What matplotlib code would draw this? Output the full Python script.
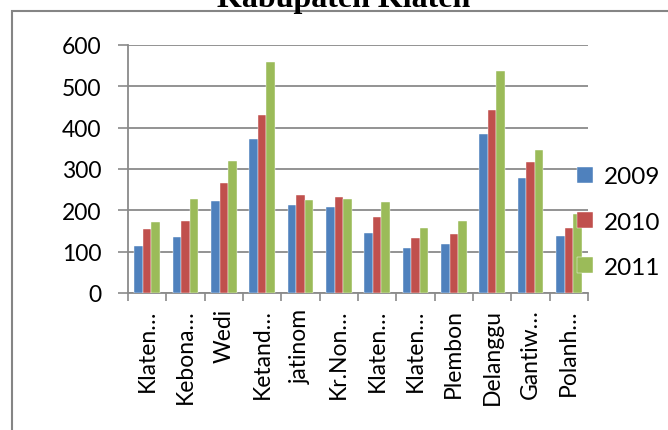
import matplotlib
matplotlib.use("Agg")
import matplotlib.pyplot as plt
import numpy as np
from matplotlib.patches import Rectangle

# data
kecamatan = ["Klaten…", "Kebona…", "Wedi", "Ketand…", "jatinom", "Kr.Non…",
             "Klaten…", "Klaten…", "Plembon", "Delanggu", "Gantiw…", "Polanh…"]
years = ["2009", "2010", "2011"]
v2009 = [113, 135, 222, 373, 213, 209, 144, 109, 118, 384, 279, 138]
v2010 = [155, 173, 265, 431, 237, 233, 185, 132, 143, 442, 316, 157]
v2011 = [172, 227, 320, 559, 225, 227, 219, 157, 173, 536, 346, 191]
colors = ["#4F81BD", "#C0504D", "#9BBB59"]

plt.rcParams['font.family'] = ['Lato', 'DejaVu Sans']

W, H = 668, 431
fig = plt.figure(figsize=(W / 100, H / 100), dpi=100)

# outer chart frame (runs off the right and bottom edges)
fig.patches.append(Rectangle((12 / W, -0.1), 1.2, 1 - 12 / H + 0.1,
                             transform=fig.transFigure, fill=False,
                             edgecolor="#858585", linewidth=1.5))

fig.text(344 / W, 1 - 7 / H, "Kabupaten Klaten", ha="center", va="baseline",
         fontsize=23, fontweight="bold", family="Liberation Serif")

ax = fig.add_axes([128 / W, (H - 294) / H, 460 / W, 248 / H])

x = np.arange(len(kecamatan))
bw = 0.222
for i, (vals, yr) in enumerate(zip([v2009, v2010, v2011], years)):
    ax.bar(x + (i - 1) * bw, vals, width=bw, color=colors[i], label=yr,
           edgecolor="white", linewidth=0.3, zorder=3)

ax.set_xlim(-0.5, len(kecamatan) - 0.5)
ax.set_ylim(0, 600)
ax.set_yticks(range(0, 601, 100))
ax.yaxis.grid(True, color="#8a8a8a", linewidth=1.3, zorder=0)
ax.set_axisbelow(True)

ax.set_xticks(x)
ax.set_xticklabels(kecamatan, rotation=90, fontsize=16.5, va="top")
ax.set_xticks(np.arange(-0.5, len(kecamatan)), minor=True)
ax.tick_params(axis="x", which="major", length=0, pad=11)
ax.tick_params(axis="x", which="minor", length=6, color="#8a8a8a", width=1.2)
ax.tick_params(axis="y", length=7, color="#8a8a8a", width=1.2, labelsize=16.5, pad=12)

for s in ["top", "right"]:
    ax.spines[s].set_visible(False)
for s in ["left", "bottom"]:
    ax.spines[s].set_color("#8a8a8a")
    ax.spines[s].set_linewidth(1.3)

leg = ax.legend(loc="center left", bbox_to_anchor=(439 / 460, 0.286), frameon=False,
                fontsize=17.5, handlelength=0.65, handleheight=0.65,
                handletextpad=0.45, labelspacing=1.0, borderaxespad=0)
leg.set_zorder(5)

fig.savefig("out.png", dpi=100)
